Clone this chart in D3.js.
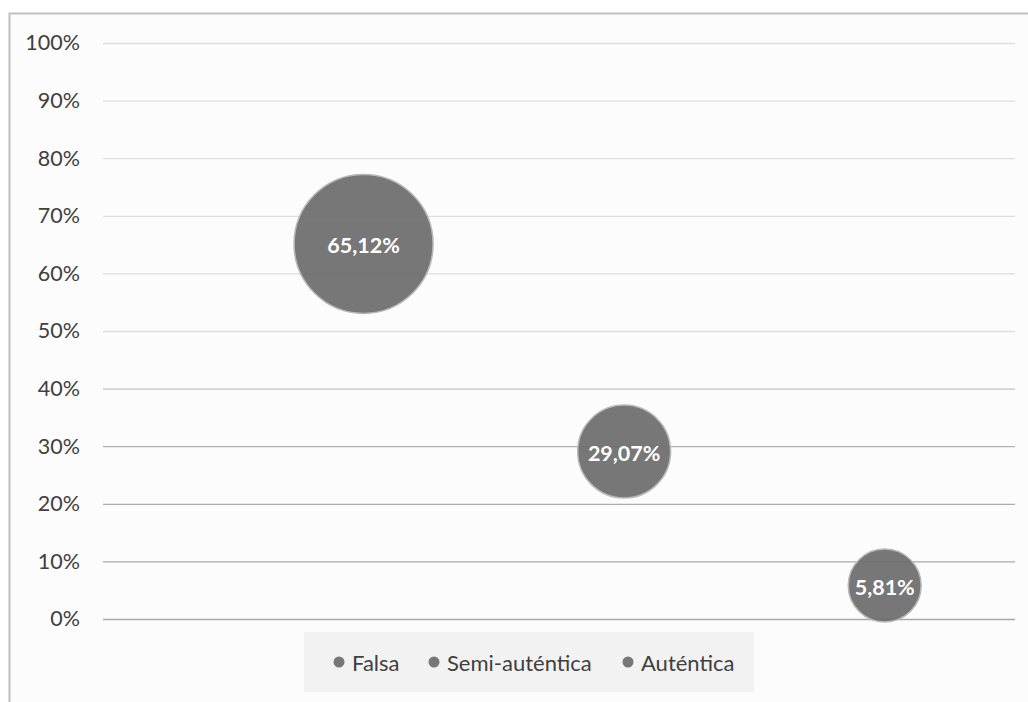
<!DOCTYPE html>
<html><head><meta charset="utf-8">
<script src="https://cdn.jsdelivr.net/npm/d3@7"></script>
<style>
html,body{margin:0;padding:0;background:#fff;}
svg{display:block;font-family:Lato,"Open Sans",sans-serif;}
</style></head>
<body>
<svg id="chart" width="1028" height="702"></svg>
<script>
const categories = ["Falsa", "Semi-auténtica", "Auténtica"];
const xValues = [1, 2, 3];
const yValues = [0.6512, 0.2907, 0.0581];
const bubbleSizes = [65.12, 29.07, 17.9];
const labels = ["65,12%", "29,07%", "5,81%"];
const yTicks = [0, 0.1, 0.2, 0.3, 0.4, 0.5, 0.6, 0.7, 0.8, 0.9, 1.0];

const svg = d3.select("#chart");
const W = 1028, H = 702;
const plot = {left: 103, right: 1015, top: 43, bottom: 619};

svg.append("rect").attr("x", 0).attr("y", 0).attr("width", W).attr("height", H).attr("fill", "#fff");
svg.append("rect").attr("x", 9.5).attr("y", 13.5).attr("width", W + 20).attr("height", H + 20)
  .attr("fill", "#fcfcfc").attr("stroke", "#bfbfbf").attr("stroke-width", 2);

const x = d3.scaleLinear().domain([0, 3.5]).range([plot.left, plot.right]);
const y = d3.scaleLinear().domain([0, 1]).range([plot.bottom, plot.top]);
const r = d3.scaleSqrt().domain([0, 65.12]).range([0, 69.5]);
const gridColor = d3.scaleLinear().domain([0, 0.3, 0.4, 0.5]).range(["#a8a8a8", "#b0b0b0", "#c4c4c4", "#dedede"]).clamp(true);

const yAxis = d3.axisLeft(y).tickValues(yTicks).tickSize(-(plot.right - plot.left))
  .tickPadding(23).tickFormat(d => Math.round(d * 100) + "%");
const gy = svg.append("g").attr("transform", `translate(${plot.left},0)`).call(yAxis);
gy.select(".domain").remove();
gy.selectAll(".tick line").attr("stroke", d => gridColor(d)).attr("stroke-width", 1.3);
gy.selectAll(".tick text").attr("fill", "#404040").attr("font-size", 21.5)
  .attr("font-family", "Lato, sans-serif");

const data = categories.map((c, i) => ({c, x: xValues[i], y: yValues[i], s: bubbleSizes[i], label: labels[i]}));

svg.append("g").selectAll("circle").data(data).join("circle")
  .attr("cx", d => x(d.x)).attr("cy", d => y(d.y)).attr("r", d => r(d.s))
  .attr("fill", "#6b6b6b").attr("fill-opacity", 0.92)
  .attr("stroke", "#b8b8b8").attr("stroke-width", 1.5);

svg.append("g").selectAll("text").data(data).join("text")
  .attr("x", d => x(d.x)).attr("y", d => y(d.y) + 1)
  .attr("text-anchor", "middle").attr("dominant-baseline", "central")
  .attr("fill", "#fff").attr("font-weight", "bold").attr("font-size", 21.5)
  .attr("font-family", "Lato, sans-serif")
  .text(d => d.label);

// Legend
const lg = svg.append("g");
lg.append("rect").attr("x", 304).attr("y", 632).attr("width", 450).attr("height", 60).attr("fill", "#f2f2f2");
const legendX = [339, 434, 628];
const items = lg.selectAll("g.item").data(categories).join("g").attr("class", "item")
  .attr("transform", (d, i) => `translate(${legendX[i]},662)`);
items.append("circle").attr("r", 5.5).attr("fill", "#777");
items.append("text").attr("x", 13).attr("dominant-baseline", "central")
  .attr("fill", "#404040").attr("font-size", 22).attr("font-family", "Lato, sans-serif")
  .text(d => d);
</script>
</body></html>
